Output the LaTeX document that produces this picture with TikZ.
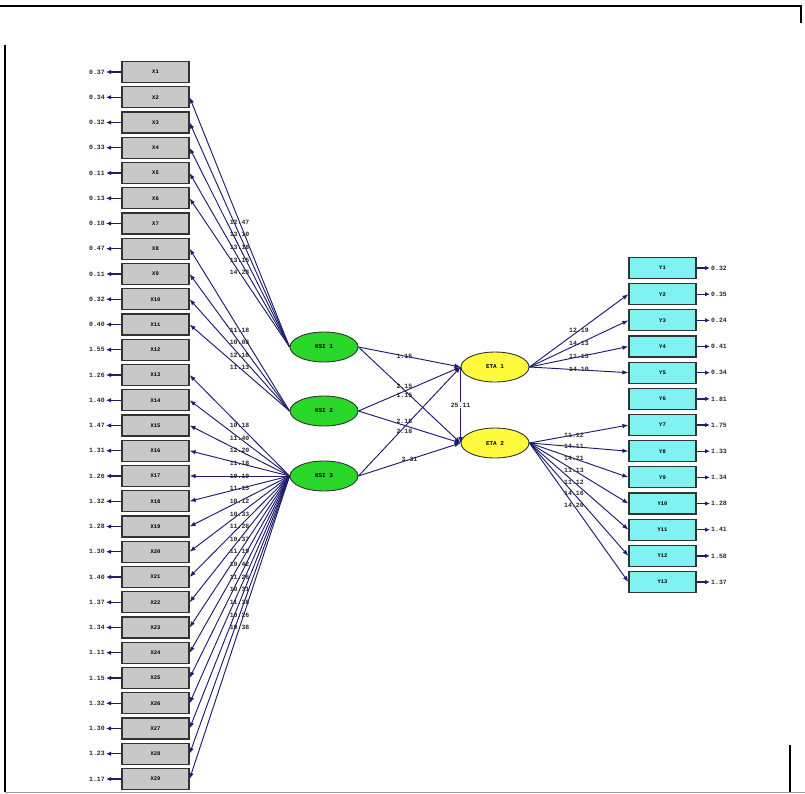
\documentclass[tikz,border=0pt]{standalone}
\usepackage{fontspec}
\setmonofont{Liberation Mono}
\usetikzlibrary{shapes.geometric,arrows.meta}
\definecolor{boxgray}{RGB}{200,200,200}
\definecolor{boxcyan}{RGB}{128,242,242}
\definecolor{latgreen}{RGB}{40,215,40}
\definecolor{latyellow}{RGB}{255,250,60}
\definecolor{pathblue}{RGB}{30,30,110}
\definecolor{txt}{RGB}{40,40,40}
\begin{document}
\begin{tikzpicture}[x=1pt,y=-1pt,
  lbox/.style={draw=black!80, fill=boxgray, minimum width=67, minimum height=21, inner sep=0, line width=1.2pt, font=\fontsize{5.5}{6}\selectfont\ttfamily\bfseries},
  rbox/.style={lbox, fill=boxcyan},
  latg/.style={ellipse, draw=black!80, fill=latgreen, minimum width=68, minimum height=30, inner sep=0, line width=0.9pt, font=\fontsize{6}{7}\selectfont\ttfamily\bfseries},
  laty/.style={latg, fill=latyellow},
  lab/.style={font=\fontsize{6.5}{7}\selectfont\ttfamily\bfseries, text=txt, inner sep=1pt},
  conn/.style={draw=pathblue, line width=0.95pt, -{Latex[length=6pt,width=4.5pt]}},
  errarrow/.style={draw=pathblue, line width=1.3pt, -{Latex[length=5pt,width=4.5pt]}}
]
\useasboundingbox (0,0) rectangle (805,793);
% frame
\draw[line width=2pt] (0,6) -- (800,6);
\draw[line width=1.5pt] (801,5) -- (801,23);
\draw[line width=1.5pt] (5,45) -- (5,792);
\draw[black!40,line width=1pt] (5,792) -- (805,792);
\draw[line width=1.2pt] (790,745) -- (790,792);

% left observed variables
\foreach \v [count=\i] in {0.37,0.34,0.32,0.33,0.11,0.13,0.18,0.47,0.11,0.32,0.40,1.55,1.26,1.40,1.47,1.31,1.26,1.32,1.28,1.30,1.40,1.37,1.34,1.11,1.15,1.32,1.30,1.23,1.17}{
  \node[lbox] (L\i) at (155.5,{72+(\i-1)*25.25}) {X\i};
  \node[lab, anchor=east] (eL\i) at (106,{72+(\i-1)*25.25}) {\v};
  \draw[errarrow] (L\i.west) -- (eL\i.east);
}

% right observed variables
\foreach \v [count=\i] in {0.32,0.35,0.24,0.41,0.34,1.81,1.75,1.33,1.34,1.28,1.41,1.58,1.37}{
  \node[rbox] (R\i) at (662.5,{268+(\i-1)*26.17}) {Y\i};
  \node[lab, anchor=west] (eR\i) at (710,{268+(\i-1)*26.17}) {\v};
  \draw[errarrow] (R\i.east) -- (eR\i.west);
}

% latent variables
\node[latg] (G1) at (324,347) {KSI 1};
\node[latg] (G2) at (324,411) {KSI 2};
\node[latg] (G3) at (324,476) {KSI 3};
\node[laty] (Y1) at (495,367) {ETA 1};
\node[laty] (Y2) at (495,443) {ETA 2};

% loadings
\foreach \t [count=\k] in {12.47,13.10,13.18,13.15,14.28}{
  \pgfmathtruncatemacro{\j}{\k+1}
  \draw[conn] (G1.west) -- node[lab,pos=0.5]{\t} (L\j.east);
}
\foreach \t [count=\k] in {11.18,10.08,12.16,11.13}{
  \pgfmathtruncatemacro{\j}{\k+7}
  \draw[conn] (G2.west) -- node[lab,pos=0.5]{\t} (L\j.east);
}
\foreach \t [count=\k] in {10.18,11.40,12.20,11.18,10.10,11.15,10.12,10.33,11.28,10.37,11.19,10.42,11.26,10.31,11.38,10.26,10.38}{
  \pgfmathtruncatemacro{\j}{\k+12}
  \draw[conn] (G3.west) -- node[lab,pos=0.5]{\t} (L\j.east);
}
\foreach \t [count=\k] in {12.19,14.13,11.13,14.10}{
  \pgfmathtruncatemacro{\j}{\k+1}
  \draw[conn] (Y1.east) -- node[lab,pos=0.5]{\t} (R\j.west);
}
\foreach \t [count=\k] in {11.12,14.11,14.21,11.13,11.12,14.16,14.20}{
  \pgfmathtruncatemacro{\j}{\k+6}
  \draw[conn] (Y2.east) -- node[lab,pos=0.45]{\t} (R\j.west);
}

% structural paths
\draw[conn] (G1.east) -- node[lab,pos=0.45]{1.15} (Y1.west);
\draw[conn] (G1.east) -- node[lab,pos=0.45,yshift=4]{2.15} (Y2.west);
\draw[conn] (G2.east) -- node[lab,pos=0.45,yshift=-4]{1.15} (Y1.west);
\draw[conn] (G2.east) -- node[lab,pos=0.45,yshift=4]{2.15} (Y2.west);
\draw[conn] (G3.east) -- node[lab,pos=0.45,yshift=-4]{2.18} (Y1.west);
\draw[conn] (G3.east) -- node[lab,pos=0.5]{3.31} (Y2.west);
\draw[conn] (Y1.west) -- node[lab,fill=white,inner sep=0.5pt]{25.11} (Y2.west);
\end{tikzpicture}
\end{document}
